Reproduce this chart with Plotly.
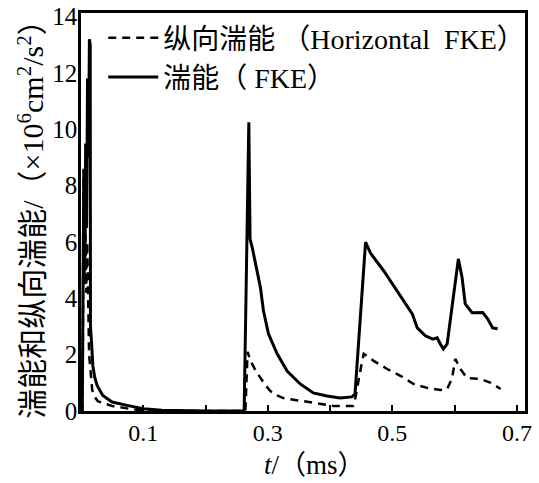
import plotly.graph_objects as go

# Time (ms) and FKE values (x10^6 cm^2/s^2)
t_fke = [0.002, 0.003, 0.0045, 0.006, 0.0075, 0.009, 0.0105, 0.012, 0.0135, 0.0148,
         0.0152, 0.017, 0.019, 0.022, 0.026, 0.035, 0.050, 0.074, 0.100, 0.130, 0.160,
         0.200, 0.250, 0.262, 0.2695, 0.2715, 0.275, 0.280, 0.288, 0.293, 0.301, 0.315,
         0.331, 0.352, 0.373, 0.395, 0.416, 0.435, 0.440, 0.457, 0.465, 0.486, 0.508,
         0.526, 0.532, 0.540, 0.553, 0.565, 0.572, 0.577, 0.582, 0.588, 0.596, 0.604,
         0.606, 0.612, 0.617, 0.628, 0.645, 0.653, 0.661, 0.669]
v_fke = [0.0, 4.0, 8.5, 5.0, 9.5, 6.5, 11.8, 9.0, 13.2, 13.0,
         3.0, 2.4, 1.6, 1.2, 0.9, 0.55, 0.32, 0.2, 0.08, 0.03, 0.01,
         0.0, 0.0, 0.0, 10.25, 6.1, 5.8, 5.3, 4.4, 3.56, 2.74, 2.03,
         1.42, 0.96, 0.64, 0.53, 0.46, 0.50, 0.6, 6.0, 5.6, 4.98, 4.27,
         3.67, 3.45, 2.95, 2.67, 2.55, 2.6, 2.38, 2.2, 2.38, 3.8, 5.1,
         5.4, 4.73, 3.8, 3.49, 3.5, 3.27, 2.95, 2.92]

# Time (ms) and horizontal FKE values
t_hfke = [0.002, 0.003, 0.004, 0.0055, 0.007, 0.0085, 0.010, 0.0115, 0.013, 0.015,
          0.018, 0.022, 0.027, 0.035, 0.050, 0.080, 0.100, 0.150, 0.264, 0.2675,
          0.272, 0.280, 0.288, 0.296, 0.304, 0.315, 0.325, 0.352, 0.379, 0.405,
          0.437, 0.440, 0.450, 0.454, 0.470, 0.491, 0.513, 0.534, 0.556, 0.577,
          0.588, 0.596, 0.601, 0.609, 0.620, 0.641, 0.658, 0.674]
v_hfke = [0.0, 2.0, 8.6, 4.5, 7.0, 4.2, 6.0, 3.8, 2.0, 1.5,
          0.75, 0.5, 0.35, 0.28, 0.18, 0.07, 0.02, 0.0, 0.0, 2.1,
          1.8, 1.45, 1.17, 0.92, 0.71, 0.55, 0.46, 0.36, 0.25, 0.18,
          0.18, 0.4, 1.6, 2.03, 1.78, 1.5, 1.25, 0.96, 0.82, 0.75,
          0.78, 1.17, 1.85, 1.5, 1.17, 1.14, 1.0, 0.78]

x_tickvals = [0.1, 0.2, 0.3, 0.4, 0.5, 0.6, 0.7]
x_ticktext = ["0.1", "", "0.3", "", "0.5", "", "0.7"]
y_tickvals = [0, 2, 4, 6, 8, 10, 12, 14]
y_ticktext = ["0", "2", "4", "6", "8", "10", "12", "14"]

FONT = "Liberation Serif, Noto Sans CJK SC, serif"
NB = "\u00a0"

fig = go.Figure()
fig.add_trace(go.Scatter(
    x=t_hfke, y=v_hfke, mode="lines",
    name="纵向湍能" + NB + "（Horizontal" + NB * 2 + "FKE）",
    line=dict(color="black", width=2.5, dash="8px,6px"),
))
fig.add_trace(go.Scatter(
    x=t_fke, y=v_fke, mode="lines",
    name="湍能（" + NB + "FKE）",
    line=dict(color="black", width=3),
))

fig.update_layout(
    width=539, height=483,
    margin=dict(l=81, r=14, t=13, b=72, autoexpand=False),
    paper_bgcolor="white", plot_bgcolor="white",
    font=dict(family=FONT, color="black", size=24),
    showlegend=True,
    legend=dict(
        x=0.05, y=1.0, xanchor="left", yanchor="top",
        bgcolor="rgba(0,0,0,0)",
        font=dict(family=FONT, size=28, color="black"),
        tracegroupgap=0, itemwidth=50,
    ),
    xaxis=dict(
        range=[0, 0.713],
        tickvals=x_tickvals, ticktext=x_ticktext,
        ticks="inside", ticklen=6, tickwidth=2, tickcolor="black",
        showline=True, linecolor="black", linewidth=2.5, mirror=True,
        showgrid=False, zeroline=False, ticklabelstandoff=-2,
        tickfont=dict(size=24, family=FONT),
    ),
    yaxis=dict(
        range=[0, 14.13],
        tickvals=y_tickvals, ticktext=y_ticktext,
        ticks="", showline=True, linecolor="black", linewidth=2.5, mirror=True,
        showgrid=False, zeroline=False, ticklabelstandoff=-4,
        tickfont=dict(size=25, family=FONT),
        title=dict(text="湍能和纵向湍能/（×10<sup>6</sup>cm<sup>2</sup>/s<sup>2</sup>）",
                   font=dict(size=30, family=FONT), standoff=0),
    ),
    annotations=[dict(
        text="<i>t</i>/（ms）", xref="paper", yref="paper",
        x=0.527, y=-0.178, xanchor="center", yanchor="bottom",
        showarrow=False, font=dict(size=27, family=FONT, color="black"),
    )],
)

fig.write_html("out.html")
